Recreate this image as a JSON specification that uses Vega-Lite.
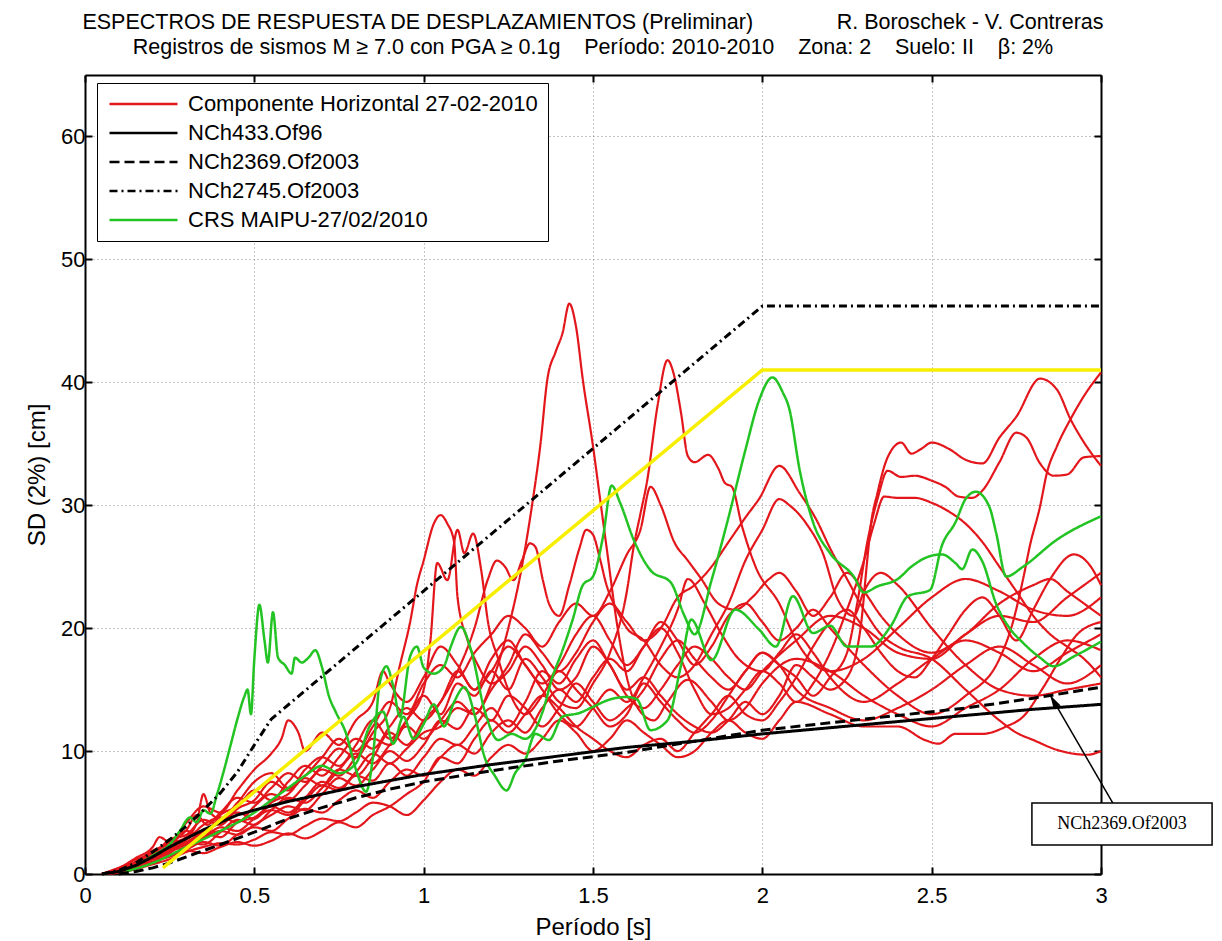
{
"$schema":"https://vega.github.io/schema/vega-lite/v6.json",
"width":1016,"height":799,
"autosize":{"type":"none"},
"padding":{"left":85,"top":75,"right":121,"bottom":67},
"background":"white",
"config":{"view":{"stroke":null},"font":"Liberation Sans"},
"title":{"text":["ESPECTROS DE RESPUESTA DE DESPLAZAMIENTOS (Preliminar)\u00a0\u00a0\u00a0\u00a0\u00a0\u00a0\u00a0\u00a0\u00a0\u00a0\u00a0\u00a0\u00a0\u00a0R. Boroschek - V. Contreras","Registros de sismos M ≥ 7.0 con PGA ≥ 0.1g\u00a0\u00a0\u00a0\u00a0Período: 2010-2010\u00a0\u00a0\u00a0\u00a0Zona: 2\u00a0\u00a0\u00a0\u00a0Suelo: II\u00a0\u00a0\u00a0\u00a0β: 2%"],"fontSize":21.5,"font":"Liberation Sans","fontWeight":"normal","anchor":"middle","offset":16,"lineHeight":25,"color":"black"},
"datasets":{
"note":[
{"k":"box","x":2.796,"x2":3.328,"y":5.77,"y2":2.36},
{"k":"arrow","x":3.035,"y":5.77,"x2":2.85,"y2":14.55},
{"k":"head","x":2.85,"y":14.55},
{"k":"label","x":3.062,"y":4.07,"t":"NCh2369.Of2003"}
],
"curves":[
{"g":"H","id":"r1","x":0.05,"y":0},{"g":"H","id":"r1","x":0.1,"y":0.3},{"g":"H","id":"r1","x":0.15,"y":0.9},{"g":"H","id":"r1","x":0.2,"y":1.2},{"g":"H","id":"r1","x":0.25,"y":2.0},{"g":"H","id":"r1","x":0.3,"y":2.4},{"g":"H","id":"r1","x":0.35,"y":3.3},{"g":"H","id":"r1","x":0.4,"y":3.0},{"g":"H","id":"r1","x":0.45,"y":4.2},{"g":"H","id":"r1","x":0.5,"y":4.6},{"g":"H","id":"r1","x":0.55,"y":5.5},{"g":"H","id":"r1","x":0.6,"y":5.0},{"g":"H","id":"r1","x":0.65,"y":6.2},{"g":"H","id":"r1","x":0.7,"y":7.5},{"g":"H","id":"r1","x":0.75,"y":7.0},{"g":"H","id":"r1","x":0.8,"y":8.3},{"g":"H","id":"r1","x":0.85,"y":9.8},{"g":"H","id":"r1","x":0.9,"y":9.0},{"g":"H","id":"r1","x":0.95,"y":10.2},{"g":"H","id":"r1","x":1.0,"y":11.5},{"g":"H","id":"r1","x":1.05,"y":12.0},{"g":"H","id":"r1","x":1.1,"y":13.5},{"g":"H","id":"r1","x":1.15,"y":13.0},{"g":"H","id":"r1","x":1.2,"y":15.5},{"g":"H","id":"r1","x":1.25,"y":20.0},{"g":"H","id":"r1","x":1.29,"y":25.0},{"g":"H","id":"r1","x":1.32,"y":30.0},{"g":"H","id":"r1","x":1.345,"y":35.0},{"g":"H","id":"r1","x":1.365,"y":40.2},{"g":"H","id":"r1","x":1.39,"y":42.5},{"g":"H","id":"r1","x":1.41,"y":44.0},{"g":"H","id":"r1","x":1.43,"y":46.4},{"g":"H","id":"r1","x":1.45,"y":44.5},{"g":"H","id":"r1","x":1.47,"y":40.2},{"g":"H","id":"r1","x":1.5,"y":34.8},{"g":"H","id":"r1","x":1.52,"y":30.7},{"g":"H","id":"r1","x":1.54,"y":26.6},{"g":"H","id":"r1","x":1.57,"y":20.5},{"g":"H","id":"r1","x":1.6,"y":16.0},{"g":"H","id":"r1","x":1.64,"y":13.2},{"g":"H","id":"r1","x":1.68,"y":12.5},{"g":"H","id":"r1","x":1.72,"y":14.0},{"g":"H","id":"r1","x":1.78,"y":15.8},{"g":"H","id":"r1","x":1.85,"y":14.0},{"g":"H","id":"r1","x":1.9,"y":12.5},{"g":"H","id":"r1","x":1.95,"y":13.5},{"g":"H","id":"r1","x":2.0,"y":15.5},{"g":"H","id":"r1","x":2.1,"y":17.5},{"g":"H","id":"r1","x":2.2,"y":16.5},{"g":"H","id":"r1","x":2.3,"y":14.5},{"g":"H","id":"r1","x":2.4,"y":13.0},{"g":"H","id":"r1","x":2.5,"y":12.0},{"g":"H","id":"r1","x":2.6,"y":13.5},{"g":"H","id":"r1","x":2.7,"y":15.0},{"g":"H","id":"r1","x":2.8,"y":17.5},{"g":"H","id":"r1","x":2.9,"y":19.0},{"g":"H","id":"r1","x":3.0,"y":18.2},
{"g":"H","id":"r2","x":0.05,"y":0},{"g":"H","id":"r2","x":0.1,"y":0.4},{"g":"H","id":"r2","x":0.15,"y":1.2},{"g":"H","id":"r2","x":0.2,"y":1.6},{"g":"H","id":"r2","x":0.25,"y":2.8},{"g":"H","id":"r2","x":0.3,"y":3.2},{"g":"H","id":"r2","x":0.35,"y":4.4},{"g":"H","id":"r2","x":0.4,"y":4.0},{"g":"H","id":"r2","x":0.45,"y":5.3},{"g":"H","id":"r2","x":0.5,"y":6.0},{"g":"H","id":"r2","x":0.55,"y":7.5},{"g":"H","id":"r2","x":0.6,"y":6.8},{"g":"H","id":"r2","x":0.65,"y":8.5},{"g":"H","id":"r2","x":0.7,"y":9.5},{"g":"H","id":"r2","x":0.75,"y":8.8},{"g":"H","id":"r2","x":0.8,"y":10.5},{"g":"H","id":"r2","x":0.85,"y":12.5},{"g":"H","id":"r2","x":0.9,"y":11.0},{"g":"H","id":"r2","x":0.95,"y":12.5},{"g":"H","id":"r2","x":1.0,"y":14.5},{"g":"H","id":"r2","x":1.05,"y":13.0},{"g":"H","id":"r2","x":1.1,"y":15.5},{"g":"H","id":"r2","x":1.15,"y":14.5},{"g":"H","id":"r2","x":1.2,"y":16.5},{"g":"H","id":"r2","x":1.25,"y":15.0},{"g":"H","id":"r2","x":1.3,"y":17.5},{"g":"H","id":"r2","x":1.35,"y":16.0},{"g":"H","id":"r2","x":1.4,"y":14.0},{"g":"H","id":"r2","x":1.45,"y":13.5},{"g":"H","id":"r2","x":1.5,"y":15.5},{"g":"H","id":"r2","x":1.55,"y":18.0},{"g":"H","id":"r2","x":1.6,"y":23.0},{"g":"H","id":"r2","x":1.62,"y":26.6},{"g":"H","id":"r2","x":1.64,"y":29.3},{"g":"H","id":"r2","x":1.66,"y":32.0},{"g":"H","id":"r2","x":1.69,"y":38.0},{"g":"H","id":"r2","x":1.72,"y":41.8},{"g":"H","id":"r2","x":1.74,"y":40.5},{"g":"H","id":"r2","x":1.76,"y":37.5},{"g":"H","id":"r2","x":1.78,"y":34.0},{"g":"H","id":"r2","x":1.8,"y":33.5},{"g":"H","id":"r2","x":1.84,"y":34.1},{"g":"H","id":"r2","x":1.87,"y":33.0},{"g":"H","id":"r2","x":1.89,"y":31.8},{"g":"H","id":"r2","x":1.91,"y":31.5},{"g":"H","id":"r2","x":1.94,"y":28.3},{"g":"H","id":"r2","x":1.98,"y":25.0},{"g":"H","id":"r2","x":2.05,"y":22.0},{"g":"H","id":"r2","x":2.1,"y":19.0},{"g":"H","id":"r2","x":2.2,"y":16.5},{"g":"H","id":"r2","x":2.3,"y":17.5},{"g":"H","id":"r2","x":2.4,"y":20.0},{"g":"H","id":"r2","x":2.5,"y":22.5},{"g":"H","id":"r2","x":2.6,"y":24.0},{"g":"H","id":"r2","x":2.7,"y":23.0},{"g":"H","id":"r2","x":2.8,"y":21.5},{"g":"H","id":"r2","x":2.9,"y":21.0},{"g":"H","id":"r2","x":3.0,"y":22.5},
{"g":"H","id":"r3","x":0.05,"y":0},{"g":"H","id":"r3","x":0.1,"y":0.2},{"g":"H","id":"r3","x":0.15,"y":0.6},{"g":"H","id":"r3","x":0.2,"y":1.4},{"g":"H","id":"r3","x":0.25,"y":1.8},{"g":"H","id":"r3","x":0.3,"y":2.5},{"g":"H","id":"r3","x":0.35,"y":2.9},{"g":"H","id":"r3","x":0.4,"y":3.8},{"g":"H","id":"r3","x":0.45,"y":3.5},{"g":"H","id":"r3","x":0.5,"y":4.5},{"g":"H","id":"r3","x":0.55,"y":5.2},{"g":"H","id":"r3","x":0.6,"y":4.8},{"g":"H","id":"r3","x":0.65,"y":6.0},{"g":"H","id":"r3","x":0.7,"y":7.2},{"g":"H","id":"r3","x":0.75,"y":6.8},{"g":"H","id":"r3","x":0.8,"y":8.0},{"g":"H","id":"r3","x":0.85,"y":7.6},{"g":"H","id":"r3","x":0.9,"y":9.0},{"g":"H","id":"r3","x":0.95,"y":8.0},{"g":"H","id":"r3","x":1.0,"y":9.5},{"g":"H","id":"r3","x":1.05,"y":11.0},{"g":"H","id":"r3","x":1.1,"y":10.5},{"g":"H","id":"r3","x":1.15,"y":12.0},{"g":"H","id":"r3","x":1.2,"y":13.5},{"g":"H","id":"r3","x":1.25,"y":12.0},{"g":"H","id":"r3","x":1.3,"y":14.0},{"g":"H","id":"r3","x":1.35,"y":16.5},{"g":"H","id":"r3","x":1.4,"y":15.5},{"g":"H","id":"r3","x":1.45,"y":17.5},{"g":"H","id":"r3","x":1.5,"y":19.0},{"g":"H","id":"r3","x":1.55,"y":17.0},{"g":"H","id":"r3","x":1.6,"y":15.0},{"g":"H","id":"r3","x":1.65,"y":16.0},{"g":"H","id":"r3","x":1.7,"y":14.5},{"g":"H","id":"r3","x":1.75,"y":13.0},{"g":"H","id":"r3","x":1.8,"y":12.0},{"g":"H","id":"r3","x":1.85,"y":11.5},{"g":"H","id":"r3","x":1.9,"y":12.5},{"g":"H","id":"r3","x":1.95,"y":14.0},{"g":"H","id":"r3","x":2.0,"y":13.0},{"g":"H","id":"r3","x":2.05,"y":14.5},{"g":"H","id":"r3","x":2.1,"y":17.0},{"g":"H","id":"r3","x":2.15,"y":16.0},{"g":"H","id":"r3","x":2.2,"y":15.0},{"g":"H","id":"r3","x":2.25,"y":16.0},{"g":"H","id":"r3","x":2.29,"y":20.0},{"g":"H","id":"r3","x":2.31,"y":25.6},{"g":"H","id":"r3","x":2.32,"y":28.3},{"g":"H","id":"r3","x":2.34,"y":31.0},{"g":"H","id":"r3","x":2.37,"y":33.9},{"g":"H","id":"r3","x":2.41,"y":35.1},{"g":"H","id":"r3","x":2.44,"y":34.2},{"g":"H","id":"r3","x":2.47,"y":34.6},{"g":"H","id":"r3","x":2.5,"y":35.1},{"g":"H","id":"r3","x":2.55,"y":34.6},{"g":"H","id":"r3","x":2.6,"y":33.7},{"g":"H","id":"r3","x":2.65,"y":33.4},{"g":"H","id":"r3","x":2.7,"y":35.5},{"g":"H","id":"r3","x":2.75,"y":37.2},{"g":"H","id":"r3","x":2.82,"y":40.3},{"g":"H","id":"r3","x":2.87,"y":39.4},{"g":"H","id":"r3","x":2.91,"y":37.0},{"g":"H","id":"r3","x":2.95,"y":35.1},{"g":"H","id":"r3","x":3.0,"y":33.2},
{"g":"H","id":"r4","x":0.05,"y":0},{"g":"H","id":"r4","x":0.1,"y":0.3},{"g":"H","id":"r4","x":0.15,"y":0.8},{"g":"H","id":"r4","x":0.2,"y":1.0},{"g":"H","id":"r4","x":0.25,"y":1.9},{"g":"H","id":"r4","x":0.3,"y":2.2},{"g":"H","id":"r4","x":0.35,"y":3.0},{"g":"H","id":"r4","x":0.4,"y":3.5},{"g":"H","id":"r4","x":0.45,"y":3.2},{"g":"H","id":"r4","x":0.5,"y":4.0},{"g":"H","id":"r4","x":0.55,"y":4.8},{"g":"H","id":"r4","x":0.6,"y":5.5},{"g":"H","id":"r4","x":0.65,"y":5.2},{"g":"H","id":"r4","x":0.7,"y":6.5},{"g":"H","id":"r4","x":0.75,"y":7.8},{"g":"H","id":"r4","x":0.8,"y":7.2},{"g":"H","id":"r4","x":0.85,"y":8.5},{"g":"H","id":"r4","x":0.9,"y":10.0},{"g":"H","id":"r4","x":0.95,"y":9.2},{"g":"H","id":"r4","x":1.0,"y":10.5},{"g":"H","id":"r4","x":1.05,"y":12.5},{"g":"H","id":"r4","x":1.1,"y":11.8},{"g":"H","id":"r4","x":1.15,"y":13.5},{"g":"H","id":"r4","x":1.2,"y":12.5},{"g":"H","id":"r4","x":1.25,"y":14.5},{"g":"H","id":"r4","x":1.3,"y":13.5},{"g":"H","id":"r4","x":1.35,"y":12.0},{"g":"H","id":"r4","x":1.4,"y":13.5},{"g":"H","id":"r4","x":1.45,"y":15.5},{"g":"H","id":"r4","x":1.5,"y":14.0},{"g":"H","id":"r4","x":1.55,"y":12.5},{"g":"H","id":"r4","x":1.6,"y":13.5},{"g":"H","id":"r4","x":1.65,"y":15.0},{"g":"H","id":"r4","x":1.7,"y":17.5},{"g":"H","id":"r4","x":1.75,"y":19.0},{"g":"H","id":"r4","x":1.8,"y":17.5},{"g":"H","id":"r4","x":1.85,"y":16.0},{"g":"H","id":"r4","x":1.9,"y":15.0},{"g":"H","id":"r4","x":1.95,"y":16.5},{"g":"H","id":"r4","x":2.0,"y":18.0},{"g":"H","id":"r4","x":2.05,"y":17.0},{"g":"H","id":"r4","x":2.1,"y":16.0},{"g":"H","id":"r4","x":2.15,"y":14.5},{"g":"H","id":"r4","x":2.2,"y":16.0},{"g":"H","id":"r4","x":2.25,"y":18.0},{"g":"H","id":"r4","x":2.28,"y":22.0},{"g":"H","id":"r4","x":2.31,"y":27.0},{"g":"H","id":"r4","x":2.34,"y":30.5},{"g":"H","id":"r4","x":2.37,"y":32.8},{"g":"H","id":"r4","x":2.41,"y":32.3},{"g":"H","id":"r4","x":2.45,"y":32.4},{"g":"H","id":"r4","x":2.5,"y":32.0},{"g":"H","id":"r4","x":2.54,"y":31.5},{"g":"H","id":"r4","x":2.58,"y":30.7},{"g":"H","id":"r4","x":2.62,"y":30.6},{"g":"H","id":"r4","x":2.65,"y":31.2},{"g":"H","id":"r4","x":2.7,"y":33.5},{"g":"H","id":"r4","x":2.75,"y":35.9},{"g":"H","id":"r4","x":2.78,"y":35.5},{"g":"H","id":"r4","x":2.82,"y":33.4},{"g":"H","id":"r4","x":2.86,"y":32.4},{"g":"H","id":"r4","x":2.9,"y":32.5},{"g":"H","id":"r4","x":2.95,"y":33.9},{"g":"H","id":"r4","x":3.0,"y":34.0},
{"g":"H","id":"r5","x":0.05,"y":0},{"g":"H","id":"r5","x":0.1,"y":0.5},{"g":"H","id":"r5","x":0.15,"y":1.0},{"g":"H","id":"r5","x":0.2,"y":1.8},{"g":"H","id":"r5","x":0.25,"y":2.6},{"g":"H","id":"r5","x":0.3,"y":3.5},{"g":"H","id":"r5","x":0.35,"y":3.0},{"g":"H","id":"r5","x":0.4,"y":4.8},{"g":"H","id":"r5","x":0.45,"y":5.5},{"g":"H","id":"r5","x":0.5,"y":6.8},{"g":"H","id":"r5","x":0.55,"y":6.0},{"g":"H","id":"r5","x":0.6,"y":7.5},{"g":"H","id":"r5","x":0.65,"y":8.8},{"g":"H","id":"r5","x":0.7,"y":8.0},{"g":"H","id":"r5","x":0.75,"y":9.5},{"g":"H","id":"r5","x":0.8,"y":11.0},{"g":"H","id":"r5","x":0.85,"y":10.2},{"g":"H","id":"r5","x":0.9,"y":12.0},{"g":"H","id":"r5","x":0.95,"y":13.5},{"g":"H","id":"r5","x":1.0,"y":12.5},{"g":"H","id":"r5","x":1.05,"y":14.0},{"g":"H","id":"r5","x":1.1,"y":16.5},{"g":"H","id":"r5","x":1.15,"y":15.0},{"g":"H","id":"r5","x":1.2,"y":17.5},{"g":"H","id":"r5","x":1.25,"y":19.0},{"g":"H","id":"r5","x":1.3,"y":17.0},{"g":"H","id":"r5","x":1.35,"y":15.5},{"g":"H","id":"r5","x":1.4,"y":17.0},{"g":"H","id":"r5","x":1.45,"y":19.5},{"g":"H","id":"r5","x":1.5,"y":21.0},{"g":"H","id":"r5","x":1.55,"y":19.0},{"g":"H","id":"r5","x":1.6,"y":17.0},{"g":"H","id":"r5","x":1.65,"y":18.5},{"g":"H","id":"r5","x":1.7,"y":20.5},{"g":"H","id":"r5","x":1.75,"y":19.0},{"g":"H","id":"r5","x":1.8,"y":17.0},{"g":"H","id":"r5","x":1.85,"y":18.5},{"g":"H","id":"r5","x":1.9,"y":21.0},{"g":"H","id":"r5","x":1.95,"y":22.0},{"g":"H","id":"r5","x":2.0,"y":20.5},{"g":"H","id":"r5","x":2.05,"y":19.0},{"g":"H","id":"r5","x":2.1,"y":20.0},{"g":"H","id":"r5","x":2.15,"y":21.5},{"g":"H","id":"r5","x":2.2,"y":20.0},{"g":"H","id":"r5","x":2.3,"y":17.0},{"g":"H","id":"r5","x":2.4,"y":14.5},{"g":"H","id":"r5","x":2.5,"y":13.0},{"g":"H","id":"r5","x":2.6,"y":14.5},{"g":"H","id":"r5","x":2.7,"y":17.5},{"g":"H","id":"r5","x":2.74,"y":20.5},{"g":"H","id":"r5","x":2.77,"y":24.0},{"g":"H","id":"r5","x":2.79,"y":26.7},{"g":"H","id":"r5","x":2.82,"y":29.9},{"g":"H","id":"r5","x":2.84,"y":32.6},{"g":"H","id":"r5","x":2.87,"y":34.8},{"g":"H","id":"r5","x":2.91,"y":37.0},{"g":"H","id":"r5","x":2.95,"y":38.9},{"g":"H","id":"r5","x":3.0,"y":40.8},
{"g":"H","id":"r6","x":0.05,"y":0},{"g":"H","id":"r6","x":0.1,"y":0.2},{"g":"H","id":"r6","x":0.15,"y":0.5},{"g":"H","id":"r6","x":0.2,"y":0.9},{"g":"H","id":"r6","x":0.25,"y":1.5},{"g":"H","id":"r6","x":0.3,"y":2.0},{"g":"H","id":"r6","x":0.35,"y":2.6},{"g":"H","id":"r6","x":0.4,"y":2.3},{"g":"H","id":"r6","x":0.45,"y":3.2},{"g":"H","id":"r6","x":0.5,"y":3.8},{"g":"H","id":"r6","x":0.55,"y":3.5},{"g":"H","id":"r6","x":0.6,"y":4.5},{"g":"H","id":"r6","x":0.65,"y":5.3},{"g":"H","id":"r6","x":0.7,"y":5.0},{"g":"H","id":"r6","x":0.75,"y":6.0},{"g":"H","id":"r6","x":0.8,"y":6.8},{"g":"H","id":"r6","x":0.85,"y":6.2},{"g":"H","id":"r6","x":0.9,"y":7.5},{"g":"H","id":"r6","x":0.95,"y":8.5},{"g":"H","id":"r6","x":1.0,"y":8.0},{"g":"H","id":"r6","x":1.05,"y":9.5},{"g":"H","id":"r6","x":1.1,"y":10.5},{"g":"H","id":"r6","x":1.15,"y":9.8},{"g":"H","id":"r6","x":1.2,"y":11.5},{"g":"H","id":"r6","x":1.25,"y":12.5},{"g":"H","id":"r6","x":1.3,"y":11.5},{"g":"H","id":"r6","x":1.35,"y":13.5},{"g":"H","id":"r6","x":1.4,"y":15.0},{"g":"H","id":"r6","x":1.45,"y":14.0},{"g":"H","id":"r6","x":1.5,"y":16.0},{"g":"H","id":"r6","x":1.55,"y":17.5},{"g":"H","id":"r6","x":1.6,"y":16.5},{"g":"H","id":"r6","x":1.65,"y":18.5},{"g":"H","id":"r6","x":1.7,"y":20.0},{"g":"H","id":"r6","x":1.75,"y":18.0},{"g":"H","id":"r6","x":1.8,"y":15.0},{"g":"H","id":"r6","x":1.85,"y":13.0},{"g":"H","id":"r6","x":1.9,"y":13.5},{"g":"H","id":"r6","x":1.95,"y":15.0},{"g":"H","id":"r6","x":2.0,"y":16.5},{"g":"H","id":"r6","x":2.05,"y":15.5},{"g":"H","id":"r6","x":2.1,"y":14.0},{"g":"H","id":"r6","x":2.15,"y":15.5},{"g":"H","id":"r6","x":2.2,"y":18.0},{"g":"H","id":"r6","x":2.25,"y":21.5},{"g":"H","id":"r6","x":2.3,"y":25.5},{"g":"H","id":"r6","x":2.33,"y":28.5},{"g":"H","id":"r6","x":2.36,"y":30.7},{"g":"H","id":"r6","x":2.4,"y":30.6},{"g":"H","id":"r6","x":2.45,"y":30.6},{"g":"H","id":"r6","x":2.5,"y":30.2},{"g":"H","id":"r6","x":2.55,"y":29.5},{"g":"H","id":"r6","x":2.6,"y":28.5},{"g":"H","id":"r6","x":2.65,"y":27.0},{"g":"H","id":"r6","x":2.7,"y":25.0},{"g":"H","id":"r6","x":2.75,"y":23.0},{"g":"H","id":"r6","x":2.8,"y":21.0},{"g":"H","id":"r6","x":2.85,"y":19.5},{"g":"H","id":"r6","x":2.9,"y":18.5},{"g":"H","id":"r6","x":2.95,"y":17.5},{"g":"H","id":"r6","x":3.0,"y":16.0},
{"g":"H","id":"r7","x":0.05,"y":0},{"g":"H","id":"r7","x":0.1,"y":0.4},{"g":"H","id":"r7","x":0.15,"y":1.0},{"g":"H","id":"r7","x":0.2,"y":1.9},{"g":"H","id":"r7","x":0.25,"y":2.5},{"g":"H","id":"r7","x":0.3,"y":3.6},{"g":"H","id":"r7","x":0.33,"y":4.8},{"g":"H","id":"r7","x":0.36,"y":4.0},{"g":"H","id":"r7","x":0.4,"y":5.0},{"g":"H","id":"r7","x":0.45,"y":6.2},{"g":"H","id":"r7","x":0.5,"y":5.8},{"g":"H","id":"r7","x":0.55,"y":7.0},{"g":"H","id":"r7","x":0.6,"y":8.2},{"g":"H","id":"r7","x":0.65,"y":7.5},{"g":"H","id":"r7","x":0.7,"y":8.8},{"g":"H","id":"r7","x":0.75,"y":10.2},{"g":"H","id":"r7","x":0.8,"y":9.5},{"g":"H","id":"r7","x":0.85,"y":11.5},{"g":"H","id":"r7","x":0.9,"y":13.5},{"g":"H","id":"r7","x":0.93,"y":17.0},{"g":"H","id":"r7","x":0.96,"y":20.5},{"g":"H","id":"r7","x":0.98,"y":23.5},{"g":"H","id":"r7","x":1.0,"y":25.5},{"g":"H","id":"r7","x":1.03,"y":28.5},{"g":"H","id":"r7","x":1.05,"y":29.2},{"g":"H","id":"r7","x":1.07,"y":28.5},{"g":"H","id":"r7","x":1.09,"y":27.0},{"g":"H","id":"r7","x":1.1,"y":22.5},{"g":"H","id":"r7","x":1.13,"y":19.0},{"g":"H","id":"r7","x":1.16,"y":17.0},{"g":"H","id":"r7","x":1.2,"y":15.5},{"g":"H","id":"r7","x":1.25,"y":16.5},{"g":"H","id":"r7","x":1.3,"y":18.5},{"g":"H","id":"r7","x":1.35,"y":17.0},{"g":"H","id":"r7","x":1.4,"y":15.0},{"g":"H","id":"r7","x":1.45,"y":16.0},{"g":"H","id":"r7","x":1.5,"y":18.5},{"g":"H","id":"r7","x":1.55,"y":17.0},{"g":"H","id":"r7","x":1.6,"y":14.5},{"g":"H","id":"r7","x":1.65,"y":13.5},{"g":"H","id":"r7","x":1.7,"y":15.0},{"g":"H","id":"r7","x":1.75,"y":17.0},{"g":"H","id":"r7","x":1.8,"y":18.5},{"g":"H","id":"r7","x":1.85,"y":17.5},{"g":"H","id":"r7","x":1.9,"y":16.0},{"g":"H","id":"r7","x":1.95,"y":15.0},{"g":"H","id":"r7","x":2.0,"y":16.5},{"g":"H","id":"r7","x":2.1,"y":19.0},{"g":"H","id":"r7","x":2.2,"y":21.0},{"g":"H","id":"r7","x":2.3,"y":20.0},{"g":"H","id":"r7","x":2.4,"y":18.0},{"g":"H","id":"r7","x":2.5,"y":17.5},{"g":"H","id":"r7","x":2.6,"y":19.5},{"g":"H","id":"r7","x":2.7,"y":21.0},{"g":"H","id":"r7","x":2.8,"y":20.5},{"g":"H","id":"r7","x":2.9,"y":22.5},{"g":"H","id":"r7","x":3.0,"y":24.5},
{"g":"H","id":"r8","x":0.05,"y":0},{"g":"H","id":"r8","x":0.1,"y":0.3},{"g":"H","id":"r8","x":0.15,"y":0.7},{"g":"H","id":"r8","x":0.2,"y":1.5},{"g":"H","id":"r8","x":0.25,"y":2.3},{"g":"H","id":"r8","x":0.3,"y":2.8},{"g":"H","id":"r8","x":0.35,"y":4.0},{"g":"H","id":"r8","x":0.4,"y":4.6},{"g":"H","id":"r8","x":0.45,"y":4.2},{"g":"H","id":"r8","x":0.5,"y":5.5},{"g":"H","id":"r8","x":0.55,"y":6.5},{"g":"H","id":"r8","x":0.6,"y":6.0},{"g":"H","id":"r8","x":0.65,"y":7.2},{"g":"H","id":"r8","x":0.7,"y":8.5},{"g":"H","id":"r8","x":0.75,"y":8.0},{"g":"H","id":"r8","x":0.8,"y":9.5},{"g":"H","id":"r8","x":0.85,"y":11.0},{"g":"H","id":"r8","x":0.9,"y":10.5},{"g":"H","id":"r8","x":0.95,"y":12.5},{"g":"H","id":"r8","x":1.0,"y":15.0},{"g":"H","id":"r8","x":1.02,"y":19.0},{"g":"H","id":"r8","x":1.04,"y":25.3},{"g":"H","id":"r8","x":1.07,"y":23.9},{"g":"H","id":"r8","x":1.1,"y":28.0},{"g":"H","id":"r8","x":1.12,"y":26.1},{"g":"H","id":"r8","x":1.146,"y":27.7},{"g":"H","id":"r8","x":1.17,"y":24.7},{"g":"H","id":"r8","x":1.19,"y":20.5},{"g":"H","id":"r8","x":1.22,"y":17.5},{"g":"H","id":"r8","x":1.25,"y":15.0},{"g":"H","id":"r8","x":1.3,"y":13.0},{"g":"H","id":"r8","x":1.35,"y":14.5},{"g":"H","id":"r8","x":1.4,"y":16.5},{"g":"H","id":"r8","x":1.45,"y":15.0},{"g":"H","id":"r8","x":1.5,"y":13.5},{"g":"H","id":"r8","x":1.55,"y":12.0},{"g":"H","id":"r8","x":1.6,"y":13.0},{"g":"H","id":"r8","x":1.65,"y":15.5},{"g":"H","id":"r8","x":1.7,"y":14.0},{"g":"H","id":"r8","x":1.75,"y":12.5},{"g":"H","id":"r8","x":1.8,"y":11.5},{"g":"H","id":"r8","x":1.85,"y":12.5},{"g":"H","id":"r8","x":1.9,"y":14.5},{"g":"H","id":"r8","x":1.95,"y":16.5},{"g":"H","id":"r8","x":2.0,"y":18.0},{"g":"H","id":"r8","x":2.05,"y":17.0},{"g":"H","id":"r8","x":2.1,"y":15.0},{"g":"H","id":"r8","x":2.2,"y":13.5},{"g":"H","id":"r8","x":2.3,"y":12.5},{"g":"H","id":"r8","x":2.4,"y":13.5},{"g":"H","id":"r8","x":2.5,"y":15.0},{"g":"H","id":"r8","x":2.6,"y":17.0},{"g":"H","id":"r8","x":2.7,"y":18.5},{"g":"H","id":"r8","x":2.8,"y":17.0},{"g":"H","id":"r8","x":2.9,"y":15.5},{"g":"H","id":"r8","x":3.0,"y":17.0},
{"g":"H","id":"r9","x":0.05,"y":0},{"g":"H","id":"r9","x":0.1,"y":0.2},{"g":"H","id":"r9","x":0.15,"y":0.8},{"g":"H","id":"r9","x":0.2,"y":1.2},{"g":"H","id":"r9","x":0.25,"y":1.7},{"g":"H","id":"r9","x":0.3,"y":2.6},{"g":"H","id":"r9","x":0.35,"y":2.4},{"g":"H","id":"r9","x":0.4,"y":3.4},{"g":"H","id":"r9","x":0.45,"y":4.4},{"g":"H","id":"r9","x":0.5,"y":4.0},{"g":"H","id":"r9","x":0.55,"y":5.2},{"g":"H","id":"r9","x":0.6,"y":6.2},{"g":"H","id":"r9","x":0.65,"y":5.8},{"g":"H","id":"r9","x":0.7,"y":7.0},{"g":"H","id":"r9","x":0.75,"y":8.5},{"g":"H","id":"r9","x":0.8,"y":8.0},{"g":"H","id":"r9","x":0.85,"y":9.5},{"g":"H","id":"r9","x":0.9,"y":11.5},{"g":"H","id":"r9","x":0.95,"y":10.5},{"g":"H","id":"r9","x":1.0,"y":12.5},{"g":"H","id":"r9","x":1.05,"y":14.0},{"g":"H","id":"r9","x":1.1,"y":16.5},{"g":"H","id":"r9","x":1.15,"y":20.0},{"g":"H","id":"r9","x":1.19,"y":24.0},{"g":"H","id":"r9","x":1.216,"y":25.5},{"g":"H","id":"r9","x":1.24,"y":25.0},{"g":"H","id":"r9","x":1.265,"y":23.9},{"g":"H","id":"r9","x":1.29,"y":25.5},{"g":"H","id":"r9","x":1.314,"y":26.9},{"g":"H","id":"r9","x":1.33,"y":26.6},{"g":"H","id":"r9","x":1.352,"y":23.9},{"g":"H","id":"r9","x":1.37,"y":22.0},{"g":"H","id":"r9","x":1.4,"y":21.0},{"g":"H","id":"r9","x":1.43,"y":23.5},{"g":"H","id":"r9","x":1.46,"y":26.5},{"g":"H","id":"r9","x":1.48,"y":28.0},{"g":"H","id":"r9","x":1.5,"y":27.6},{"g":"H","id":"r9","x":1.52,"y":25.7},{"g":"H","id":"r9","x":1.54,"y":23.5},{"g":"H","id":"r9","x":1.57,"y":21.5},{"g":"H","id":"r9","x":1.6,"y":20.0},{"g":"H","id":"r9","x":1.65,"y":19.0},{"g":"H","id":"r9","x":1.7,"y":17.0},{"g":"H","id":"r9","x":1.75,"y":16.0},{"g":"H","id":"r9","x":1.8,"y":17.0},{"g":"H","id":"r9","x":1.85,"y":19.5},{"g":"H","id":"r9","x":1.9,"y":22.0},{"g":"H","id":"r9","x":1.95,"y":25.5},{"g":"H","id":"r9","x":2.0,"y":28.0},{"g":"H","id":"r9","x":2.05,"y":30.5},{"g":"H","id":"r9","x":2.08,"y":30.0},{"g":"H","id":"r9","x":2.13,"y":28.5},{"g":"H","id":"r9","x":2.18,"y":26.0},{"g":"H","id":"r9","x":2.22,"y":22.5},{"g":"H","id":"r9","x":2.27,"y":21.0},{"g":"H","id":"r9","x":2.3,"y":23.0},{"g":"H","id":"r9","x":2.35,"y":24.5},{"g":"H","id":"r9","x":2.4,"y":23.5},{"g":"H","id":"r9","x":2.5,"y":20.0},{"g":"H","id":"r9","x":2.6,"y":17.0},{"g":"H","id":"r9","x":2.7,"y":15.0},{"g":"H","id":"r9","x":2.8,"y":14.5},{"g":"H","id":"r9","x":2.9,"y":15.0},{"g":"H","id":"r9","x":3.0,"y":15.5},
{"g":"H","id":"r10","x":0.05,"y":0},{"g":"H","id":"r10","x":0.1,"y":0.3},{"g":"H","id":"r10","x":0.15,"y":0.6},{"g":"H","id":"r10","x":0.2,"y":1.3},{"g":"H","id":"r10","x":0.25,"y":2.1},{"g":"H","id":"r10","x":0.3,"y":2.6},{"g":"H","id":"r10","x":0.35,"y":3.5},{"g":"H","id":"r10","x":0.4,"y":4.2},{"g":"H","id":"r10","x":0.45,"y":5.0},{"g":"H","id":"r10","x":0.5,"y":4.5},{"g":"H","id":"r10","x":0.55,"y":5.8},{"g":"H","id":"r10","x":0.6,"y":6.5},{"g":"H","id":"r10","x":0.65,"y":7.8},{"g":"H","id":"r10","x":0.7,"y":7.2},{"g":"H","id":"r10","x":0.75,"y":8.5},{"g":"H","id":"r10","x":0.8,"y":9.8},{"g":"H","id":"r10","x":0.85,"y":9.0},{"g":"H","id":"r10","x":0.9,"y":10.5},{"g":"H","id":"r10","x":0.95,"y":12.0},{"g":"H","id":"r10","x":1.0,"y":11.0},{"g":"H","id":"r10","x":1.05,"y":12.5},{"g":"H","id":"r10","x":1.1,"y":14.0},{"g":"H","id":"r10","x":1.15,"y":13.0},{"g":"H","id":"r10","x":1.2,"y":15.0},{"g":"H","id":"r10","x":1.25,"y":17.0},{"g":"H","id":"r10","x":1.3,"y":19.5},{"g":"H","id":"r10","x":1.35,"y":18.0},{"g":"H","id":"r10","x":1.4,"y":16.5},{"g":"H","id":"r10","x":1.45,"y":18.0},{"g":"H","id":"r10","x":1.5,"y":20.5},{"g":"H","id":"r10","x":1.55,"y":22.0},{"g":"H","id":"r10","x":1.6,"y":20.5},{"g":"H","id":"r10","x":1.65,"y":19.0},{"g":"H","id":"r10","x":1.7,"y":20.0},{"g":"H","id":"r10","x":1.75,"y":22.5},{"g":"H","id":"r10","x":1.8,"y":23.5},{"g":"H","id":"r10","x":1.85,"y":25.0},{"g":"H","id":"r10","x":1.9,"y":27.0},{"g":"H","id":"r10","x":1.95,"y":29.0},{"g":"H","id":"r10","x":1.99,"y":30.5},{"g":"H","id":"r10","x":2.05,"y":33.2},{"g":"H","id":"r10","x":2.11,"y":31.0},{"g":"H","id":"r10","x":2.16,"y":28.8},{"g":"H","id":"r10","x":2.2,"y":26.5},{"g":"H","id":"r10","x":2.25,"y":24.0},{"g":"H","id":"r10","x":2.3,"y":21.5},{"g":"H","id":"r10","x":2.35,"y":19.5},{"g":"H","id":"r10","x":2.4,"y":18.5},{"g":"H","id":"r10","x":2.5,"y":17.5},{"g":"H","id":"r10","x":2.6,"y":15.0},{"g":"H","id":"r10","x":2.7,"y":12.5},{"g":"H","id":"r10","x":2.75,"y":11.5},{"g":"H","id":"r10","x":2.8,"y":10.9},{"g":"H","id":"r10","x":2.87,"y":10.1},{"g":"H","id":"r10","x":2.96,"y":9.7},{"g":"H","id":"r10","x":3.0,"y":10.0},
{"g":"H","id":"r11","x":0.05,"y":0},{"g":"H","id":"r11","x":0.1,"y":0.1},{"g":"H","id":"r11","x":0.15,"y":0.4},{"g":"H","id":"r11","x":0.2,"y":0.8},{"g":"H","id":"r11","x":0.25,"y":1.2},{"g":"H","id":"r11","x":0.3,"y":1.8},{"g":"H","id":"r11","x":0.35,"y":2.2},{"g":"H","id":"r11","x":0.4,"y":2.5},{"g":"H","id":"r11","x":0.45,"y":2.4},{"g":"H","id":"r11","x":0.5,"y":2.8},{"g":"H","id":"r11","x":0.55,"y":3.4},{"g":"H","id":"r11","x":0.6,"y":3.2},{"g":"H","id":"r11","x":0.65,"y":3.9},{"g":"H","id":"r11","x":0.7,"y":4.5},{"g":"H","id":"r11","x":0.75,"y":4.3},{"g":"H","id":"r11","x":0.8,"y":5.0},{"g":"H","id":"r11","x":0.85,"y":5.8},{"g":"H","id":"r11","x":0.9,"y":5.5},{"g":"H","id":"r11","x":0.95,"y":4.8},{"g":"H","id":"r11","x":1.0,"y":6.0},{"g":"H","id":"r11","x":1.05,"y":7.5},{"g":"H","id":"r11","x":1.1,"y":8.5},{"g":"H","id":"r11","x":1.15,"y":8.0},{"g":"H","id":"r11","x":1.2,"y":9.5},{"g":"H","id":"r11","x":1.25,"y":10.5},{"g":"H","id":"r11","x":1.3,"y":9.8},{"g":"H","id":"r11","x":1.35,"y":11.0},{"g":"H","id":"r11","x":1.4,"y":12.5},{"g":"H","id":"r11","x":1.45,"y":11.5},{"g":"H","id":"r11","x":1.5,"y":10.0},{"g":"H","id":"r11","x":1.55,"y":11.0},{"g":"H","id":"r11","x":1.6,"y":12.5},{"g":"H","id":"r11","x":1.65,"y":11.5},{"g":"H","id":"r11","x":1.7,"y":10.5},{"g":"H","id":"r11","x":1.75,"y":9.5},{"g":"H","id":"r11","x":1.8,"y":10.0},{"g":"H","id":"r11","x":1.85,"y":11.5},{"g":"H","id":"r11","x":1.9,"y":12.5},{"g":"H","id":"r11","x":1.95,"y":11.5},{"g":"H","id":"r11","x":2.0,"y":11.0},{"g":"H","id":"r11","x":2.05,"y":12.5},{"g":"H","id":"r11","x":2.1,"y":14.0},{"g":"H","id":"r11","x":2.2,"y":13.0},{"g":"H","id":"r11","x":2.3,"y":12.0},{"g":"H","id":"r11","x":2.4,"y":12.0},{"g":"H","id":"r11","x":2.48,"y":10.9},{"g":"H","id":"r11","x":2.52,"y":10.6},{"g":"H","id":"r11","x":2.57,"y":11.4},{"g":"H","id":"r11","x":2.65,"y":11.4},{"g":"H","id":"r11","x":2.72,"y":12.0},{"g":"H","id":"r11","x":2.77,"y":12.8},{"g":"H","id":"r11","x":2.83,"y":15.2},{"g":"H","id":"r11","x":2.88,"y":17.5},{"g":"H","id":"r11","x":2.93,"y":19.5},{"g":"H","id":"r11","x":3.0,"y":20.5},
{"g":"H","id":"r12","x":0.05,"y":0},{"g":"H","id":"r12","x":0.1,"y":0.3},{"g":"H","id":"r12","x":0.15,"y":0.9},{"g":"H","id":"r12","x":0.2,"y":1.7},{"g":"H","id":"r12","x":0.25,"y":2.5},{"g":"H","id":"r12","x":0.3,"y":3.0},{"g":"H","id":"r12","x":0.33,"y":4.2},{"g":"H","id":"r12","x":0.35,"y":6.5},{"g":"H","id":"r12","x":0.37,"y":5.0},{"g":"H","id":"r12","x":0.4,"y":4.5},{"g":"H","id":"r12","x":0.45,"y":5.8},{"g":"H","id":"r12","x":0.5,"y":7.5},{"g":"H","id":"r12","x":0.55,"y":8.2},{"g":"H","id":"r12","x":0.6,"y":7.0},{"g":"H","id":"r12","x":0.65,"y":8.0},{"g":"H","id":"r12","x":0.7,"y":9.5},{"g":"H","id":"r12","x":0.75,"y":11.0},{"g":"H","id":"r12","x":0.8,"y":10.0},{"g":"H","id":"r12","x":0.85,"y":12.0},{"g":"H","id":"r12","x":0.9,"y":14.0},{"g":"H","id":"r12","x":0.95,"y":13.0},{"g":"H","id":"r12","x":1.0,"y":15.5},{"g":"H","id":"r12","x":1.05,"y":17.0},{"g":"H","id":"r12","x":1.1,"y":16.0},{"g":"H","id":"r12","x":1.15,"y":18.0},{"g":"H","id":"r12","x":1.2,"y":19.5},{"g":"H","id":"r12","x":1.25,"y":21.0},{"g":"H","id":"r12","x":1.3,"y":20.0},{"g":"H","id":"r12","x":1.35,"y":18.5},{"g":"H","id":"r12","x":1.4,"y":20.5},{"g":"H","id":"r12","x":1.45,"y":22.0},{"g":"H","id":"r12","x":1.5,"y":21.0},{"g":"H","id":"r12","x":1.55,"y":23.0},{"g":"H","id":"r12","x":1.6,"y":26.0},{"g":"H","id":"r12","x":1.64,"y":28.0},{"g":"H","id":"r12","x":1.67,"y":31.5},{"g":"H","id":"r12","x":1.7,"y":30.0},{"g":"H","id":"r12","x":1.74,"y":27.0},{"g":"H","id":"r12","x":1.78,"y":25.5},{"g":"H","id":"r12","x":1.82,"y":24.0},{"g":"H","id":"r12","x":1.87,"y":22.0},{"g":"H","id":"r12","x":1.92,"y":21.5},{"g":"H","id":"r12","x":1.97,"y":22.5},{"g":"H","id":"r12","x":2.02,"y":24.0},{"g":"H","id":"r12","x":2.05,"y":24.5},{"g":"H","id":"r12","x":2.1,"y":23.0},{"g":"H","id":"r12","x":2.15,"y":21.0},{"g":"H","id":"r12","x":2.2,"y":22.5},{"g":"H","id":"r12","x":2.25,"y":24.5},{"g":"H","id":"r12","x":2.3,"y":23.0},{"g":"H","id":"r12","x":2.35,"y":21.0},{"g":"H","id":"r12","x":2.4,"y":19.5},{"g":"H","id":"r12","x":2.5,"y":18.0},{"g":"H","id":"r12","x":2.6,"y":19.5},{"g":"H","id":"r12","x":2.7,"y":22.0},{"g":"H","id":"r12","x":2.8,"y":23.5},{"g":"H","id":"r12","x":2.85,"y":24.0},{"g":"H","id":"r12","x":2.9,"y":23.0},{"g":"H","id":"r12","x":3.0,"y":21.0},
{"g":"H","id":"r13","x":0.05,"y":0},{"g":"H","id":"r13","x":0.1,"y":0.5},{"g":"H","id":"r13","x":0.15,"y":1.3},{"g":"H","id":"r13","x":0.2,"y":2.2},{"g":"H","id":"r13","x":0.22,"y":3.0},{"g":"H","id":"r13","x":0.25,"y":2.6},{"g":"H","id":"r13","x":0.3,"y":4.2},{"g":"H","id":"r13","x":0.35,"y":5.5},{"g":"H","id":"r13","x":0.4,"y":5.0},{"g":"H","id":"r13","x":0.45,"y":6.8},{"g":"H","id":"r13","x":0.5,"y":8.5},{"g":"H","id":"r13","x":0.55,"y":9.8},{"g":"H","id":"r13","x":0.58,"y":11.0},{"g":"H","id":"r13","x":0.6,"y":12.5},{"g":"H","id":"r13","x":0.63,"y":11.5},{"g":"H","id":"r13","x":0.65,"y":10.0},{"g":"H","id":"r13","x":0.7,"y":11.5},{"g":"H","id":"r13","x":0.75,"y":10.5},{"g":"H","id":"r13","x":0.8,"y":12.5},{"g":"H","id":"r13","x":0.85,"y":14.0},{"g":"H","id":"r13","x":0.88,"y":16.5},{"g":"H","id":"r13","x":0.9,"y":15.5},{"g":"H","id":"r13","x":0.95,"y":14.0},{"g":"H","id":"r13","x":1.0,"y":16.0},{"g":"H","id":"r13","x":1.05,"y":18.5},{"g":"H","id":"r13","x":1.1,"y":17.0},{"g":"H","id":"r13","x":1.15,"y":15.0},{"g":"H","id":"r13","x":1.2,"y":16.5},{"g":"H","id":"r13","x":1.25,"y":18.5},{"g":"H","id":"r13","x":1.3,"y":17.0},{"g":"H","id":"r13","x":1.35,"y":15.0},{"g":"H","id":"r13","x":1.4,"y":13.0},{"g":"H","id":"r13","x":1.45,"y":12.0},{"g":"H","id":"r13","x":1.5,"y":13.5},{"g":"H","id":"r13","x":1.55,"y":15.0},{"g":"H","id":"r13","x":1.6,"y":14.0},{"g":"H","id":"r13","x":1.65,"y":16.0},{"g":"H","id":"r13","x":1.7,"y":18.5},{"g":"H","id":"r13","x":1.75,"y":21.5},{"g":"H","id":"r13","x":1.78,"y":24.0},{"g":"H","id":"r13","x":1.83,"y":22.0},{"g":"H","id":"r13","x":1.88,"y":19.5},{"g":"H","id":"r13","x":1.93,"y":17.5},{"g":"H","id":"r13","x":2.0,"y":16.5},{"g":"H","id":"r13","x":2.05,"y":18.0},{"g":"H","id":"r13","x":2.1,"y":19.5},{"g":"H","id":"r13","x":2.15,"y":18.0},{"g":"H","id":"r13","x":2.2,"y":16.0},{"g":"H","id":"r13","x":2.3,"y":14.0},{"g":"H","id":"r13","x":2.4,"y":15.5},{"g":"H","id":"r13","x":2.5,"y":17.5},{"g":"H","id":"r13","x":2.6,"y":19.0},{"g":"H","id":"r13","x":2.7,"y":18.0},{"g":"H","id":"r13","x":2.8,"y":16.5},{"g":"H","id":"r13","x":2.9,"y":18.0},{"g":"H","id":"r13","x":3.0,"y":19.5},
{"g":"H","id":"r14","x":0.05,"y":0},{"g":"H","id":"r14","x":0.1,"y":0.2},{"g":"H","id":"r14","x":0.15,"y":0.5},{"g":"H","id":"r14","x":0.2,"y":1.0},{"g":"H","id":"r14","x":0.25,"y":1.4},{"g":"H","id":"r14","x":0.3,"y":1.9},{"g":"H","id":"r14","x":0.35,"y":1.7},{"g":"H","id":"r14","x":0.4,"y":2.2},{"g":"H","id":"r14","x":0.45,"y":2.6},{"g":"H","id":"r14","x":0.5,"y":2.3},{"g":"H","id":"r14","x":0.55,"y":2.7},{"g":"H","id":"r14","x":0.6,"y":3.3},{"g":"H","id":"r14","x":0.65,"y":2.9},{"g":"H","id":"r14","x":0.7,"y":3.5},{"g":"H","id":"r14","x":0.75,"y":4.2},{"g":"H","id":"r14","x":0.8,"y":3.8},{"g":"H","id":"r14","x":0.85,"y":4.8},{"g":"H","id":"r14","x":0.9,"y":5.5},{"g":"H","id":"r14","x":0.95,"y":6.5},{"g":"H","id":"r14","x":1.0,"y":7.5},{"g":"H","id":"r14","x":1.05,"y":9.5},{"g":"H","id":"r14","x":1.1,"y":9.0},{"g":"H","id":"r14","x":1.15,"y":11.0},{"g":"H","id":"r14","x":1.2,"y":12.5},{"g":"H","id":"r14","x":1.25,"y":11.5},{"g":"H","id":"r14","x":1.3,"y":13.0},{"g":"H","id":"r14","x":1.35,"y":14.5},{"g":"H","id":"r14","x":1.4,"y":13.5},{"g":"H","id":"r14","x":1.45,"y":12.0},{"g":"H","id":"r14","x":1.5,"y":11.0},{"g":"H","id":"r14","x":1.55,"y":10.0},{"g":"H","id":"r14","x":1.6,"y":9.5},{"g":"H","id":"r14","x":1.65,"y":10.5},{"g":"H","id":"r14","x":1.7,"y":11.0},{"g":"H","id":"r14","x":1.75,"y":10.0},{"g":"H","id":"r14","x":1.8,"y":11.5},{"g":"H","id":"r14","x":1.85,"y":13.0},{"g":"H","id":"r14","x":1.9,"y":14.5},{"g":"H","id":"r14","x":1.95,"y":13.0},{"g":"H","id":"r14","x":2.0,"y":12.5},{"g":"H","id":"r14","x":2.05,"y":14.0},{"g":"H","id":"r14","x":2.1,"y":16.0},{"g":"H","id":"r14","x":2.15,"y":18.5},{"g":"H","id":"r14","x":2.2,"y":20.5},{"g":"H","id":"r14","x":2.25,"y":21.5},{"g":"H","id":"r14","x":2.3,"y":20.0},{"g":"H","id":"r14","x":2.35,"y":18.0},{"g":"H","id":"r14","x":2.4,"y":16.5},{"g":"H","id":"r14","x":2.45,"y":16.0},{"g":"H","id":"r14","x":2.5,"y":17.5},{"g":"H","id":"r14","x":2.55,"y":19.5},{"g":"H","id":"r14","x":2.6,"y":21.5},{"g":"H","id":"r14","x":2.65,"y":22.5},{"g":"H","id":"r14","x":2.7,"y":21.0},{"g":"H","id":"r14","x":2.75,"y":19.0},{"g":"H","id":"r14","x":2.8,"y":21.5},{"g":"H","id":"r14","x":2.85,"y":24.0},{"g":"H","id":"r14","x":2.92,"y":26.0},{"g":"H","id":"r14","x":2.97,"y":25.0},{"g":"H","id":"r14","x":3.0,"y":23.5},
{"g":"G","id":"gA","x":0.1,"y":0.2},{"g":"G","id":"gA","x":0.15,"y":0.7},{"g":"G","id":"gA","x":0.2,"y":1.5},{"g":"G","id":"gA","x":0.25,"y":2.4},{"g":"G","id":"gA","x":0.28,"y":3.5},{"g":"G","id":"gA","x":0.31,"y":4.6},{"g":"G","id":"gA","x":0.33,"y":4.2},{"g":"G","id":"gA","x":0.35,"y":5.2},{"g":"G","id":"gA","x":0.37,"y":4.9},{"g":"G","id":"gA","x":0.39,"y":6.5},{"g":"G","id":"gA","x":0.41,"y":8.4},{"g":"G","id":"gA","x":0.43,"y":10.5},{"g":"G","id":"gA","x":0.45,"y":12.6},{"g":"G","id":"gA","x":0.47,"y":14.4},{"g":"G","id":"gA","x":0.48,"y":15.0},{"g":"G","id":"gA","x":0.49,"y":13.0},{"g":"G","id":"gA","x":0.5,"y":17.5},{"g":"G","id":"gA","x":0.515,"y":21.9},{"g":"G","id":"gA","x":0.53,"y":19.0},{"g":"G","id":"gA","x":0.54,"y":17.2},{"g":"G","id":"gA","x":0.555,"y":21.3},{"g":"G","id":"gA","x":0.57,"y":17.6},{"g":"G","id":"gA","x":0.59,"y":17.0},{"g":"G","id":"gA","x":0.61,"y":16.3},{"g":"G","id":"gA","x":0.62,"y":17.6},{"g":"G","id":"gA","x":0.64,"y":17.2},{"g":"G","id":"gA","x":0.66,"y":17.6},{"g":"G","id":"gA","x":0.68,"y":18.2},{"g":"G","id":"gA","x":0.7,"y":16.8},{"g":"G","id":"gA","x":0.72,"y":14.5},{"g":"G","id":"gA","x":0.74,"y":13.2},{"g":"G","id":"gA","x":0.77,"y":11.5},{"g":"G","id":"gA","x":0.8,"y":8.5},{"g":"G","id":"gA","x":0.83,"y":6.7},{"g":"G","id":"gA","x":0.85,"y":9.5},{"g":"G","id":"gA","x":0.87,"y":15.5},{"g":"G","id":"gA","x":0.89,"y":16.9},{"g":"G","id":"gA","x":0.91,"y":15.3},{"g":"G","id":"gA","x":0.93,"y":12.8},{"g":"G","id":"gA","x":0.96,"y":17.7},{"g":"G","id":"gA","x":0.98,"y":18.5},{"g":"G","id":"gA","x":1.0,"y":16.8},{"g":"G","id":"gA","x":1.03,"y":16.3},{"g":"G","id":"gA","x":1.06,"y":16.9},{"g":"G","id":"gA","x":1.08,"y":18.5},{"g":"G","id":"gA","x":1.11,"y":20.1},{"g":"G","id":"gA","x":1.14,"y":18.2},{"g":"G","id":"gA","x":1.18,"y":13.3},{"g":"G","id":"gA","x":1.22,"y":10.9},{"g":"G","id":"gA","x":1.26,"y":11.4},{"g":"G","id":"gA","x":1.3,"y":11.0},{"g":"G","id":"gA","x":1.35,"y":13.1},{"g":"G","id":"gA","x":1.38,"y":16.0},{"g":"G","id":"gA","x":1.41,"y":18.2},{"g":"G","id":"gA","x":1.44,"y":20.7},{"g":"G","id":"gA","x":1.47,"y":23.5},{"g":"G","id":"gA","x":1.5,"y":24.2},{"g":"G","id":"gA","x":1.53,"y":27.5},{"g":"G","id":"gA","x":1.555,"y":31.6},{"g":"G","id":"gA","x":1.58,"y":30.2},{"g":"G","id":"gA","x":1.62,"y":27.2},{"g":"G","id":"gA","x":1.67,"y":24.7},{"g":"G","id":"gA","x":1.73,"y":23.7},{"g":"G","id":"gA","x":1.77,"y":21.0},{"g":"G","id":"gA","x":1.8,"y":19.5},{"g":"G","id":"gA","x":1.85,"y":23.9},{"g":"G","id":"gA","x":1.9,"y":29.0},{"g":"G","id":"gA","x":1.95,"y":34.5},{"g":"G","id":"gA","x":1.99,"y":38.5},{"g":"G","id":"gA","x":2.03,"y":40.4},{"g":"G","id":"gA","x":2.06,"y":39.2},{"g":"G","id":"gA","x":2.08,"y":37.8},{"g":"G","id":"gA","x":2.11,"y":32.9},{"g":"G","id":"gA","x":2.15,"y":28.6},{"g":"G","id":"gA","x":2.2,"y":26.1},{"g":"G","id":"gA","x":2.27,"y":24.2},{"g":"G","id":"gA","x":2.3,"y":22.9},{"g":"G","id":"gA","x":2.34,"y":23.4},{"g":"G","id":"gA","x":2.4,"y":24.0},{"g":"G","id":"gA","x":2.44,"y":25.0},{"g":"G","id":"gA","x":2.5,"y":25.9},{"g":"G","id":"gA","x":2.53,"y":26.0},{"g":"G","id":"gA","x":2.57,"y":25.3},{"g":"G","id":"gA","x":2.59,"y":24.8},{"g":"G","id":"gA","x":2.62,"y":26.4},{"g":"G","id":"gA","x":2.65,"y":25.4},{"g":"G","id":"gA","x":2.69,"y":22.0},{"g":"G","id":"gA","x":2.73,"y":20.0},{"g":"G","id":"gA","x":2.77,"y":18.8},{"g":"G","id":"gA","x":2.82,"y":17.6},{"g":"G","id":"gA","x":2.86,"y":16.9},{"g":"G","id":"gA","x":2.92,"y":17.7},{"g":"G","id":"gA","x":3.0,"y":18.9},
{"g":"G","id":"gB","x":0.12,"y":0.2},{"g":"G","id":"gB","x":0.2,"y":0.9},{"g":"G","id":"gB","x":0.3,"y":2.2},{"g":"G","id":"gB","x":0.4,"y":3.5},{"g":"G","id":"gB","x":0.5,"y":5.0},{"g":"G","id":"gB","x":0.55,"y":6.0},{"g":"G","id":"gB","x":0.6,"y":7.0},{"g":"G","id":"gB","x":0.65,"y":8.0},{"g":"G","id":"gB","x":0.7,"y":8.8},{"g":"G","id":"gB","x":0.75,"y":8.2},{"g":"G","id":"gB","x":0.8,"y":9.0},{"g":"G","id":"gB","x":0.84,"y":12.0},{"g":"G","id":"gB","x":0.88,"y":13.2},{"g":"G","id":"gB","x":0.91,"y":10.6},{"g":"G","id":"gB","x":0.94,"y":12.8},{"g":"G","id":"gB","x":0.97,"y":11.0},{"g":"G","id":"gB","x":1.0,"y":12.2},{"g":"G","id":"gB","x":1.03,"y":13.8},{"g":"G","id":"gB","x":1.06,"y":12.0},{"g":"G","id":"gB","x":1.09,"y":14.0},{"g":"G","id":"gB","x":1.12,"y":15.2},{"g":"G","id":"gB","x":1.15,"y":13.0},{"g":"G","id":"gB","x":1.18,"y":9.5},{"g":"G","id":"gB","x":1.21,"y":8.0},{"g":"G","id":"gB","x":1.245,"y":6.8},{"g":"G","id":"gB","x":1.27,"y":8.2},{"g":"G","id":"gB","x":1.3,"y":9.3},{"g":"G","id":"gB","x":1.33,"y":11.4},{"g":"G","id":"gB","x":1.37,"y":10.9},{"g":"G","id":"gB","x":1.41,"y":12.8},{"g":"G","id":"gB","x":1.46,"y":13.1},{"g":"G","id":"gB","x":1.5,"y":13.6},{"g":"G","id":"gB","x":1.55,"y":14.2},{"g":"G","id":"gB","x":1.6,"y":14.4},{"g":"G","id":"gB","x":1.63,"y":14.2},{"g":"G","id":"gB","x":1.67,"y":11.7},{"g":"G","id":"gB","x":1.72,"y":12.5},{"g":"G","id":"gB","x":1.76,"y":17.0},{"g":"G","id":"gB","x":1.79,"y":20.7},{"g":"G","id":"gB","x":1.85,"y":17.4},{"g":"G","id":"gB","x":1.92,"y":21.5},{"g":"G","id":"gB","x":1.99,"y":19.9},{"g":"G","id":"gB","x":2.04,"y":18.5},{"g":"G","id":"gB","x":2.09,"y":22.6},{"g":"G","id":"gB","x":2.15,"y":19.6},{"g":"G","id":"gB","x":2.2,"y":20.2},{"g":"G","id":"gB","x":2.25,"y":18.5},{"g":"G","id":"gB","x":2.32,"y":18.5},{"g":"G","id":"gB","x":2.38,"y":20.2},{"g":"G","id":"gB","x":2.43,"y":22.6},{"g":"G","id":"gB","x":2.495,"y":23.1},{"g":"G","id":"gB","x":2.53,"y":26.7},{"g":"G","id":"gB","x":2.57,"y":28.6},{"g":"G","id":"gB","x":2.6,"y":30.5},{"g":"G","id":"gB","x":2.63,"y":31.1},{"g":"G","id":"gB","x":2.67,"y":29.9},{"g":"G","id":"gB","x":2.69,"y":27.8},{"g":"G","id":"gB","x":2.72,"y":24.2},{"g":"G","id":"gB","x":2.77,"y":25.0},{"g":"G","id":"gB","x":2.87,"y":27.2},{"g":"G","id":"gB","x":3.0,"y":29.1},
{"g":"A","id":"n433","x":0.05,"y":0},{"g":"A","id":"n433","x":0.1,"y":0.2},{"g":"A","id":"n433","x":0.15,"y":0.7},{"g":"A","id":"n433","x":0.2,"y":1.4},{"g":"A","id":"n433","x":0.25,"y":2.2},{"g":"A","id":"n433","x":0.3,"y":2.9},{"g":"A","id":"n433","x":0.35,"y":3.6},{"g":"A","id":"n433","x":0.4,"y":4.2},{"g":"A","id":"n433","x":0.45,"y":4.8},{"g":"A","id":"n433","x":0.5,"y":5.2},{"g":"A","id":"n433","x":0.6,"y":5.9},{"g":"A","id":"n433","x":0.7,"y":6.5},{"g":"A","id":"n433","x":0.8,"y":7.1},{"g":"A","id":"n433","x":0.9,"y":7.6},{"g":"A","id":"n433","x":1.0,"y":8.1},{"g":"A","id":"n433","x":1.2,"y":8.9},{"g":"A","id":"n433","x":1.4,"y":9.6},{"g":"A","id":"n433","x":1.6,"y":10.3},{"g":"A","id":"n433","x":1.8,"y":10.8},{"g":"A","id":"n433","x":2.0,"y":11.4},{"g":"A","id":"n433","x":2.2,"y":11.9},{"g":"A","id":"n433","x":2.4,"y":12.4},{"g":"A","id":"n433","x":2.6,"y":12.9},{"g":"A","id":"n433","x":2.8,"y":13.4},{"g":"A","id":"n433","x":3.0,"y":13.8},
{"g":"B","id":"n2369","x":0.1,"y":0},{"g":"B","id":"n2369","x":0.15,"y":0.2},{"g":"B","id":"n2369","x":0.2,"y":0.5},{"g":"B","id":"n2369","x":0.25,"y":0.9},{"g":"B","id":"n2369","x":0.3,"y":1.4},{"g":"B","id":"n2369","x":0.35,"y":1.9},{"g":"B","id":"n2369","x":0.4,"y":2.4},{"g":"B","id":"n2369","x":0.45,"y":2.9},{"g":"B","id":"n2369","x":0.5,"y":3.4},{"g":"B","id":"n2369","x":0.6,"y":4.5},{"g":"B","id":"n2369","x":0.7,"y":5.4},{"g":"B","id":"n2369","x":0.8,"y":6.2},{"g":"B","id":"n2369","x":0.9,"y":6.9},{"g":"B","id":"n2369","x":1.0,"y":7.5},{"g":"B","id":"n2369","x":1.2,"y":8.4},{"g":"B","id":"n2369","x":1.4,"y":9.2},{"g":"B","id":"n2369","x":1.6,"y":9.9},{"g":"B","id":"n2369","x":1.8,"y":10.8},{"g":"B","id":"n2369","x":2.0,"y":11.7},{"g":"B","id":"n2369","x":2.2,"y":12.3},{"g":"B","id":"n2369","x":2.4,"y":12.9},{"g":"B","id":"n2369","x":2.6,"y":13.5},{"g":"B","id":"n2369","x":2.8,"y":14.3},{"g":"B","id":"n2369","x":3.0,"y":15.2},
{"g":"C","id":"n2745","x":0.05,"y":0},{"g":"C","id":"n2745","x":0.1,"y":0.3},{"g":"C","id":"n2745","x":0.15,"y":0.9},{"g":"C","id":"n2745","x":0.2,"y":1.8},{"g":"C","id":"n2745","x":0.25,"y":2.8},{"g":"C","id":"n2745","x":0.3,"y":3.9},{"g":"C","id":"n2745","x":0.35,"y":5.2},{"g":"C","id":"n2745","x":0.4,"y":6.6},{"g":"C","id":"n2745","x":0.45,"y":8.3},{"g":"C","id":"n2745","x":0.5,"y":10.5},{"g":"C","id":"n2745","x":0.55,"y":12.6},{"g":"C","id":"n2745","x":2.0,"y":46.2},{"g":"C","id":"n2745","x":3.0,"y":46.2},
{"g":"Y","id":"yel","x":0.23,"y":0.5},{"g":"Y","id":"yel","x":2.0,"y":41.0},{"g":"Y","id":"yel","x":3.0,"y":41.0}
]},
"data":{"name":"curves"},
"layer":[
{"transform":[{"filter":"datum.g=='H'"}],
 "mark":{"type":"line","strokeWidth":2.2,"interpolate":"monotone","strokeJoin":"round"},
 "encoding":{
  "x":{"field":"x","type":"quantitative","scale":{"domain":[0,3],"nice":false,"zero":false},
       "axis":{"orient":"bottom","values":[0,0.5,1,1.5,2,2.5,3],"labelExpr":"format(datum.value,'~g')","title":"Período [s]","titleFontSize":24,"titleFont":"Liberation Sans","titleFontWeight":"normal","titleColor":"black","titlePadding":9,"labelFontSize":22,"labelFont":"Liberation Sans","labelColor":"black","labelPadding":18,"labelFlush":false,"labelOverlap":false,"tickSize":-7,"tickWidth":2,"tickColor":"black","domainColor":"black","domainWidth":2,"grid":true,"gridColor":"#8a8a8a","gridDash":[1,3],"gridWidth":1}},
  "y":{"field":"y","type":"quantitative","scale":{"domain":[0,65],"nice":false,"zero":false},
       "axis":{"orient":"left","values":[0,10,20,30,40,50,60],"title":"SD (2%) [cm]","titleFontSize":24,"titleFont":"Liberation Sans","titleFontWeight":"normal","titleColor":"black","titlePadding":11,"labelFontSize":22,"labelFont":"Liberation Sans","labelColor":"black","labelPadding":7,"labelFlush":false,"labelOverlap":false,"tickSize":-7,"tickWidth":2,"tickColor":"black","domainColor":"black","domainWidth":2,"grid":true,"gridColor":"#8a8a8a","gridDash":[1,3],"gridWidth":1}},
  "detail":{"field":"id"},
  "color":{"field":"g","type":"nominal","scale":{"domain":["H","A","B","C","G"],"range":["#e3161b","#000000","#000000","#000000","#22c322"]},
     "legend":{"title":null,"orient":"none","legendX":12,"legendY":8,"symbolType":"M-1,0L7,0","symbolSize":289,"symbolStrokeWidth":2.5,"labelOffset":59,"labelFontSize":22,"labelFont":"Liberation Sans","labelColor":"black","labelLimit":0,"labelBaseline":"middle","rowPadding":7,"padding":10,"strokeColor":"black","fillColor":"white","labelExpr":"datum.label=='H'?'Componente Horizontal 27-02-2010':datum.label=='A'?'NCh433.Of96':datum.label=='B'?'NCh2369.Of2003':datum.label=='C'?'NCh2745.Of2003':'CRS MAIPU-27/02/2010'"}},
  "strokeDash":{"field":"g","type":"nominal","scale":{"domain":["H","A","B","C","G"],"range":[[1,0],[1,0],[10,5],[8,4,2,4],[1,0]]},
     "legend":{"title":null,"orient":"none","legendX":12,"legendY":8,"symbolType":"M-1,0L7,0","symbolSize":289,"symbolStrokeWidth":2.5,"labelOffset":59,"labelFontSize":22,"labelFont":"Liberation Sans","labelColor":"black","labelLimit":0,"labelBaseline":"middle","rowPadding":7,"padding":10,"strokeColor":"black","fillColor":"white","labelExpr":"datum.label=='H'?'Componente Horizontal 27-02-2010':datum.label=='A'?'NCh433.Of96':datum.label=='B'?'NCh2369.Of2003':datum.label=='C'?'NCh2745.Of2003':'CRS MAIPU-27/02/2010'"}}
 }},
{"transform":[{"filter":"datum.g=='G'"}],
 "mark":{"type":"line","strokeWidth":2.5,"interpolate":"monotone","strokeJoin":"round"},
 "encoding":{
  "x":{"field":"x","type":"quantitative","scale":{"domain":[0,3],"nice":false,"zero":false},"axis":null},
  "y":{"field":"y","type":"quantitative","scale":{"domain":[0,65],"nice":false,"zero":false},"axis":null},
  "detail":{"field":"id"},
  "color":{"field":"g","type":"nominal"},
  "strokeDash":{"field":"g","type":"nominal"}
 }},
{"transform":[{"filter":"datum.g=='A'||datum.g=='B'||datum.g=='C'"}],
 "mark":{"type":"line","strokeWidth":3,"interpolate":"linear","strokeJoin":"round"},
 "encoding":{
  "x":{"field":"x","type":"quantitative","scale":{"domain":[0,3],"nice":false,"zero":false},"axis":null},
  "y":{"field":"y","type":"quantitative","scale":{"domain":[0,65],"nice":false,"zero":false},"axis":null},
  "detail":{"field":"id"},
  "color":{"field":"g","type":"nominal"},
  "strokeDash":{"field":"g","type":"nominal"}
 }},
{"transform":[{"filter":"datum.g=='Y'"}],
 "mark":{"type":"line","strokeWidth":3.5,"color":"#f7ee00"},
 "encoding":{
  "x":{"field":"x","type":"quantitative","scale":{"domain":[0,3],"nice":false,"zero":false},
       "axis":{"orient":"top","values":[0,0.5,1,1.5,2,2.5,3],"labels":false,"title":null,"grid":false,"tickSize":-7,"tickWidth":2,"tickColor":"black","domainColor":"black","domainWidth":2}},
  "y":{"field":"y","type":"quantitative","scale":{"domain":[0,65],"nice":false,"zero":false},
       "axis":{"orient":"right","values":[0,10,20,30,40,50,60],"labels":false,"title":null,"grid":false,"tickSize":-7,"tickWidth":2,"tickColor":"black","domainColor":"black","domainWidth":2}}
 }},
{"data":{"name":"note"},"transform":[{"filter":"datum.k=='arrow'"}],
 "mark":{"type":"rule","color":"black","strokeWidth":1.5},
 "encoding":{
  "x":{"field":"x","type":"quantitative","scale":{"domain":[0,3],"nice":false,"zero":false},"axis":null},
  "y":{"field":"y","type":"quantitative","scale":{"domain":[0,65],"nice":false,"zero":false},"axis":null},
  "x2":{"field":"x2"},"y2":{"field":"y2"}
 }},
{"data":{"name":"note"},"transform":[{"filter":"datum.k=='head'"}],
 "mark":{"type":"point","shape":"M0,0L-0.45,1.6L0.45,1.6Z","size":300,"filled":true,"color":"black","opacity":1,"angle":330},
 "encoding":{
  "x":{"field":"x","type":"quantitative","scale":{"domain":[0,3],"nice":false,"zero":false},"axis":null},
  "y":{"field":"y","type":"quantitative","scale":{"domain":[0,65],"nice":false,"zero":false},"axis":null}
 }},
{"data":{"name":"note"},"transform":[{"filter":"datum.k=='box'"}],
 "mark":{"type":"rect","fill":"white","stroke":"black","strokeWidth":1.5},
 "encoding":{
  "x":{"field":"x","type":"quantitative","scale":{"domain":[0,3],"nice":false,"zero":false},"axis":null},
  "y":{"field":"y","type":"quantitative","scale":{"domain":[0,65],"nice":false,"zero":false},"axis":null},
  "x2":{"field":"x2"},"y2":{"field":"y2"}
 }},
{"data":{"name":"note"},"transform":[{"filter":"datum.k=='label'"}],
 "mark":{"type":"text","font":"Liberation Serif","fontSize":18,"color":"black","align":"center","baseline":"middle"},
 "encoding":{
  "x":{"field":"x","type":"quantitative","scale":{"domain":[0,3],"nice":false,"zero":false},"axis":null},
  "y":{"field":"y","type":"quantitative","scale":{"domain":[0,65],"nice":false,"zero":false},"axis":null},
  "text":{"field":"t"}
 }}
],
"resolve":{"axis":{"x":"independent","y":"independent"}}
}
